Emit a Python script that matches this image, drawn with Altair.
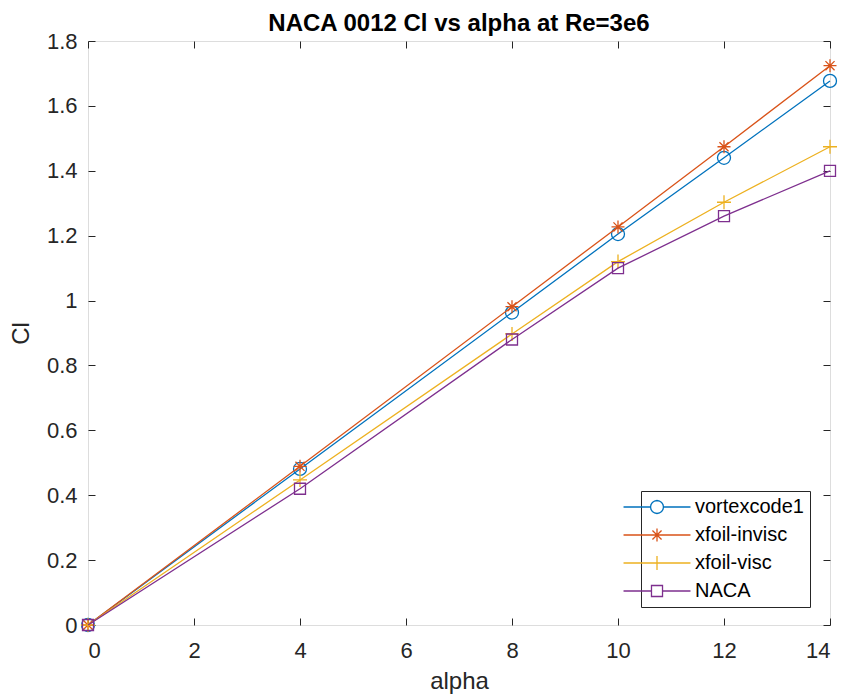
import altair as alt
import pandas as pd

# ---- data ----
alpha = [0, 4, 8, 10, 12, 14]
vortexcode1 = [0.0, 0.481, 0.963, 1.205, 1.440, 1.677]
xfoil_invisc = [0.0, 0.489, 0.981, 1.227, 1.474, 1.724]
xfoil_visc = [0.0, 0.447, 0.897, 1.120, 1.303, 1.474]
naca = [0.0, 0.420, 0.880, 1.100, 1.260, 1.400]

series_names = ["vortexcode1", "xfoil-invisc", "xfoil-visc", "NACA"]
series_values = [vortexcode1, xfoil_invisc, xfoil_visc, naca]

x_ticks = [0, 2, 4, 6, 8, 10, 12, 14]
y_ticks = [0, 0.2, 0.4, 0.6, 0.8, 1.0, 1.2, 1.4, 1.6, 1.8]

# ---- styles ----
series_colors = ["#0072BD", "#D95319", "#EDB120", "#7E2F8E"]
marker_shapes = [
    "circle",
    "M-1,0L1,0M0,-1L0,1M-0.7,-0.7L0.7,0.7M-0.7,0.7L0.7,-0.7",
    "M-1,0L1,0M0,-1L0,1",
    "square",
]
marker_sizes = [169, 169, 196, 121]
CIRC = ("M1.08,0L0.998,0.413L0.764,0.764L0.413,0.998L0,1.08L-0.413,0.998L-0.764,0.764"
        "L-0.998,0.413L-1.08,0L-0.998,-0.413L-0.764,-0.764L-0.413,-0.998L0,-1.08"
        "L0.413,-0.998L0.764,-0.764L0.998,-0.413Z")
legend_paths = [
    "M-5.58,0L-1.08,0M1.08,0L5.58,0" + CIRC,
    "M-5.58,0L5.58,0M0,-1.08L0,1.08M-0.76,-0.76L0.76,0.76M-0.76,0.76L0.76,-0.76",
    "M-5.58,0L5.58,0M0,-1.17L0,1.17",
    "M-5.58,0L-0.92,0M0.92,0L5.58,0M-0.92,-0.92L0.92,-0.92L0.92,0.92L-0.92,0.92Z",
]

FONT = "Liberation Sans"
AX = "#262626"
W, H = 742, 584

rows = []
for name, vals in zip(series_names, series_values):
    for a, v in zip(alpha, vals):
        rows.append({"alpha": a, "cl": v, "series": name})
df = pd.DataFrame(rows)

xs = alt.Scale(domain=[0, 14], nice=False, zero=False)
ys = alt.Scale(domain=[0, 1.8], nice=False, zero=False)
cs = alt.Scale(domain=series_names, range=series_colors)

base = alt.Chart(df)

# axis-bearing (invisible) layer
axes_layer = base.mark_point(opacity=0).encode(
    x=alt.X("alpha:Q", scale=xs, axis=alt.Axis(
        title="alpha", values=x_ticks, ticks=False, domain=False, grid=False,
        labelFontSize=22, labelPadding=15, labelColor=AX, labelFont=FONT,
        titleFontSize=24, titlePadding=8, titleColor=AX, titleFont=FONT,
        titleFontWeight="normal")),
    y=alt.Y("cl:Q", scale=ys, axis=alt.Axis(
        title="Cl", values=y_ticks, format=".1~f", ticks=False, domain=False,
        grid=False, labelFontSize=22, labelPadding=11, labelColor=AX,
        labelFont=FONT, titleFontSize=24, titlePadding=13, titleColor=AX,
        titleFont=FONT, titleFontWeight="normal")),
)

series_layers = []
for name, col, shp, sz in zip(series_names, series_colors, marker_shapes, marker_sizes):
    sub = base.transform_filter(alt.datum.series == name)
    enc = dict(x=alt.X("alpha:Q", scale=xs, axis=None),
               y=alt.Y("cl:Q", scale=ys, axis=None))
    series_layers.append(sub.mark_line(strokeWidth=1.3, color=col).encode(**enc))
    series_layers.append(
        sub.mark_point(shape=shp, size=sz, filled=False, strokeWidth=1.3,
                       color=col, opacity=1).encode(**enc)
    )

leg = alt.Legend(
    orient="none", legendX=553, legendY=450, title=None,
    labelFontSize=20, labelFont=FONT, labelColor="black",
    symbolSize=144, symbolStrokeWidth=1.3, symbolOpacity=1,
    padding=6, rowPadding=8, labelOffset=28,
    strokeColor=AX, fillColor="white", cornerRadius=0,
)
legend_layer = base.mark_point(opacity=0, filled=False).encode(
    x=alt.X("alpha:Q", scale=xs, axis=None),
    y=alt.Y("cl:Q", scale=ys, axis=None),
    color=alt.Color("series:N", scale=cs, legend=leg),
    shape=alt.Shape("series:N", scale=alt.Scale(domain=series_names, range=legend_paths), legend=leg),
)

def tick_axis(orient, offset, values):
    return alt.Axis(orient=orient, offset=offset, values=values, labels=False,
                    domain=False, grid=False, ticks=True, tickSize=7,
                    tickColor=AX, tickWidth=1, title=None)

ticks_a = base.mark_point(opacity=0).encode(
    x=alt.X("alpha:Q", scale=xs, axis=tick_axis("top", -H, x_ticks)),
    y=alt.Y("cl:Q", scale=ys, axis=tick_axis("right", -W, y_ticks)),
)
ticks_b = base.mark_point(opacity=0).encode(
    x=alt.X("alpha:Q", scale=xs, axis=tick_axis("bottom", -H, x_ticks)),
    y=alt.Y("cl:Q", scale=ys, axis=tick_axis("left", -W, y_ticks)),
)

chart = alt.layer(axes_layer, *series_layers, legend_layer, ticks_a, ticks_b).resolve_axis(
    x="independent", y="independent"
).properties(
    width=W, height=H,
    title=alt.Title("NACA 0012 Cl vs alpha at Re=3e6", fontSize=24,
                    fontWeight="bold", font=FONT, color="black",
                    anchor="middle", offset=8, dy=14),
    autosize=alt.AutoSizeParams(type="none"),
    padding={"left": 88, "top": 41, "right": 15, "bottom": 75},
).configure_view(stroke=AX, strokeWidth=1).configure(background="white")

chart.save("out.html", embed_options={"renderer": "svg", "actions": False})
